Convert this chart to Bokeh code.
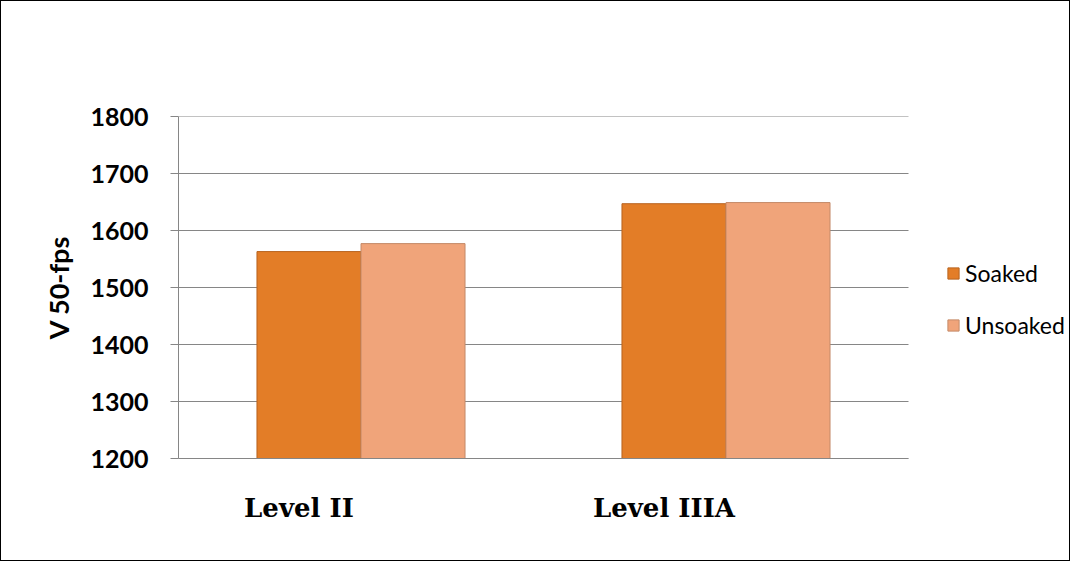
from bokeh.plotting import figure
from bokeh.models import (Range1d, FixedTicker, ColumnDataSource,
                          Legend, LegendItem)
from bokeh.embed import file_html
from bokeh.resources import INLINE

# ---- data ----
categories = ["Level II", "Level IIIA"]
soaked = [1563, 1647]
unsoaked = [1577, 1649]
series_names = ["Soaked", "Unsoaked"]
y_ticks = [1200, 1300, 1400, 1500, 1600, 1700, 1800]

SOAK_COL = "#E37D27"
UNSOAK_COL = "#F0A47A"
GRID_COL = "#868686"
BAR_W = 0.285
LABEL_SHIFT = 0.17      # category labels sit a little left of the group centre
PLOT_W, PLOT_PX = 730, 891   # plot-area width vs. frame width (legend lives right of plot area)

n = len(categories)
centre = [i + 0.5 for i in range(n)]
src = ColumnDataSource(dict(
    cat=categories, soaked=soaked, unsoaked=unsoaked,
    x_s=[c - BAR_W / 2 for c in centre],
    x_u=[c + BAR_W / 2 for c in centre],
))
grid_src = ColumnDataSource(dict(y=y_ticks, x0=[0] * len(y_ticks), x1=[n] * len(y_ticks)))

p = figure(width=1070, height=561, x_range=Range1d(0, n * PLOT_PX / PLOT_W),
           y_range=Range1d(y_ticks[0], y_ticks[-1]),
           output_backend="svg", toolbar_location=None,
           min_border_left=177, min_border_right=2,
           min_border_top=115, min_border_bottom=104)
p.styles = {"border": "1px solid #000000"}
p.outline_line_color = None
p.background_fill_color = "white"
p.border_fill_color = "white"

# horizontal gridlines limited to the plot area
p.segment(x0="x0", x1="x1", y0="y", y1="y", source=grid_src,
          line_color=GRID_COL, line_width=1)

r1 = p.vbar(x="x_s", top="soaked", bottom=y_ticks[0], width=BAR_W, source=src,
            fill_color=SOAK_COL, line_color="#B8631F", line_width=1)
r2 = p.vbar(x="x_u", top="unsoaked", bottom=y_ticks[0], width=BAR_W, source=src,
            fill_color=UNSOAK_COL, line_color="#C48A68", line_width=1)

# y axis
p.yaxis.ticker = FixedTicker(ticks=y_ticks)
p.yaxis.major_label_text_font = "Lato"
p.yaxis.major_label_text_font_style = "bold"
p.yaxis.major_label_text_font_size = "25px"
p.yaxis.major_label_text_color = "black"
p.yaxis.major_label_standoff = 22
p.yaxis.major_tick_out = 8
p.yaxis.major_tick_in = 0
p.yaxis.minor_tick_line_color = None
p.yaxis.major_tick_line_color = GRID_COL
p.yaxis.axis_line_color = GRID_COL
p.yaxis.axis_label = "V 50-fps"
p.yaxis.axis_label_text_font = "Lato"
p.yaxis.axis_label_text_font_style = "bold"
p.yaxis.axis_label_text_font_size = "27px"
p.yaxis.axis_label_text_color = "black"
p.yaxis.axis_label_standoff = 12

# x axis with the category names (slightly left of the group centres)
lab_pos = [c - LABEL_SHIFT for c in centre]
p.xaxis.ticker = FixedTicker(ticks=lab_pos)
p.xaxis.bounds = (0, n)
p.xaxis.major_label_overrides = {pos: c for pos, c in zip(lab_pos, categories)}
p.xaxis.axis_line_color = GRID_COL
p.xaxis.major_tick_line_color = None
p.xaxis.minor_tick_line_color = None
p.xaxis.major_tick_out = 0
p.xaxis.major_tick_in = 0
p.xaxis.major_label_standoff = 34
p.xaxis.major_label_text_font = "DejaVu Serif"
p.xaxis.major_label_text_font_style = "bold"
p.xaxis.major_label_text_font_size = "26px"
p.xaxis.major_label_text_color = "black"

p.xgrid.grid_line_color = None
p.ygrid.grid_line_color = None

legend = Legend(items=[LegendItem(label=series_names[0], renderers=[r1]),
                       LegendItem(label=series_names[1], renderers=[r2])],
                location=(768, 119), orientation="vertical",
                label_text_font="Lato", label_text_font_size="23px",
                label_text_color="black",
                glyph_width=14, glyph_height=14, spacing=24, label_height=26,
                border_line_color=None, background_fill_alpha=0,
                label_standoff=5, padding=4, margin=0)
p.add_layout(legend, "center")

open("out.html", "w").write(file_html(p, INLINE))
